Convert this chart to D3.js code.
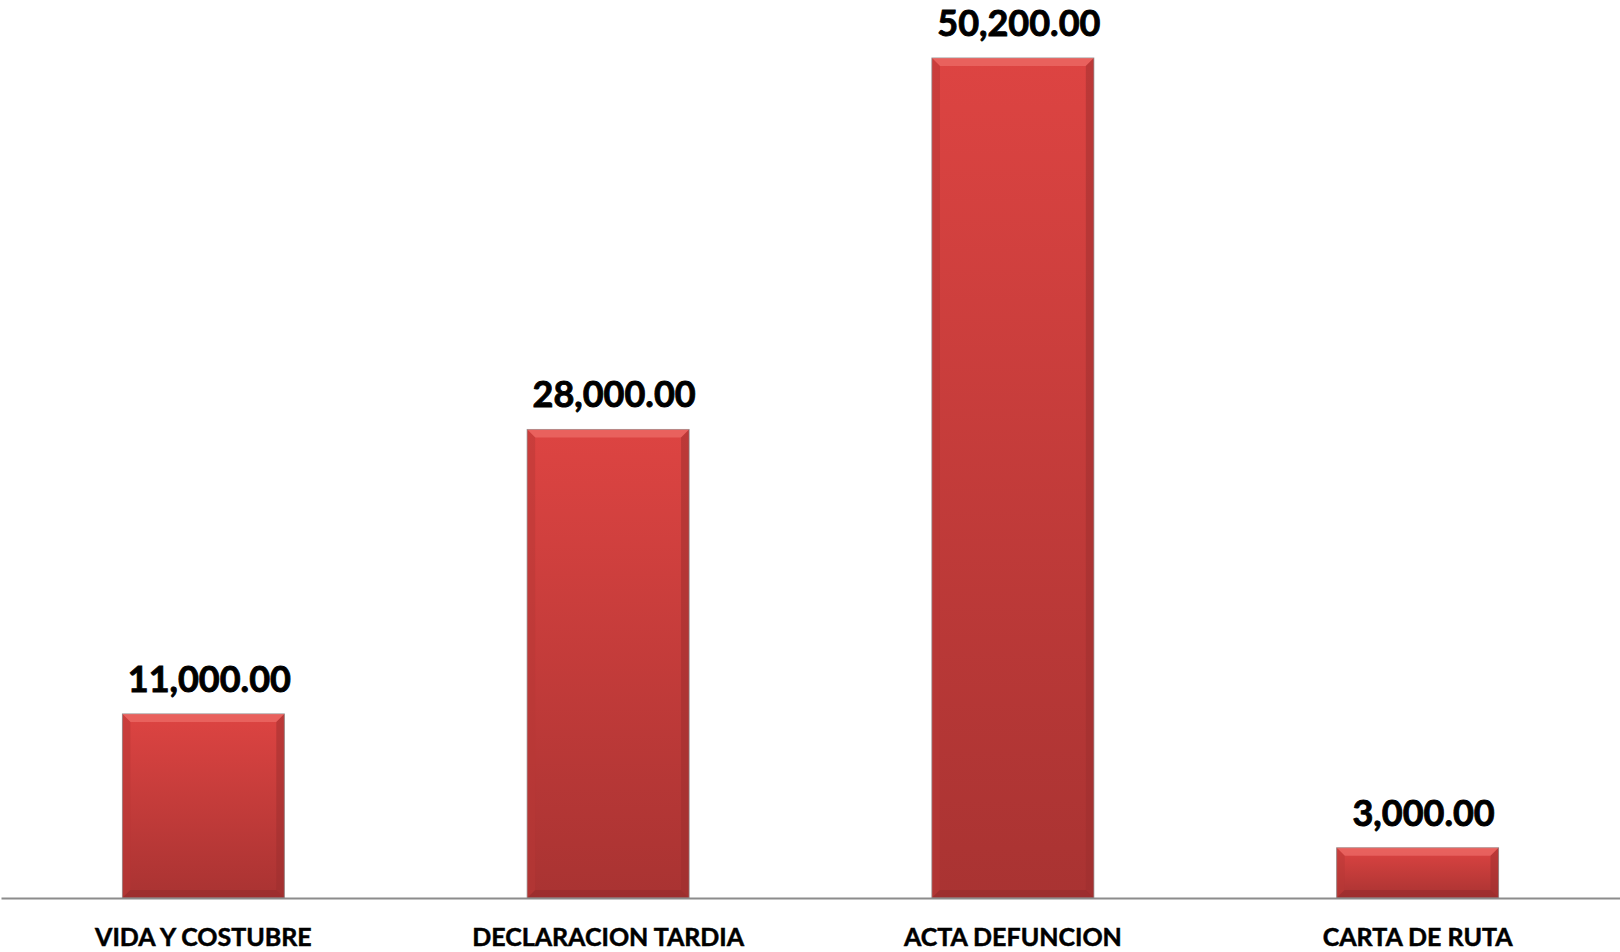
<!DOCTYPE html>
<html>
<head>
<meta charset="utf-8">
<script src="https://cdn.jsdelivr.net/npm/d3@7"></script>
<style>
  body { margin: 0; background: #ffffff; }
</style>
</head>
<body>
<script>
// chart data
const categories = ["VIDA Y COSTUBRE", "DECLARACION TARDIA", "ACTA DEFUNCION", "CARTA DE RUTA"]
const values = [11000, 28000, 50200, 3000]

const width = 1620, height = 952
const baseY = 898

let svg = d3.select("body").append("svg")
  .attr("width", width)
  .attr("height", height)

let defs = svg.append("defs")
let grad = defs.append("linearGradient")
  .attr("id", "barFill")
  .attr("x1", 0).attr("y1", 0).attr("x2", 0).attr("y2", 1)
grad.append("stop").attr("offset", "0%").attr("stop-color", "#dd4442")
grad.append("stop").attr("offset", "100%").attr("stop-color", "#a93332")

let x = d3.scaleBand()
  .domain(categories)
  .range([1, width])
  .paddingInner(0.6)
  .paddingOuter(0.3)

let y = d3.scaleLinear()
  .domain([0, 50200])
  .range([baseY, 58])

let fmt = d3.format(",.2f")

let data = categories.map((c, i) => ({ cat: c, val: values[i] }))

let bars = svg.selectAll("g.bar")
  .data(data)
  .enter()
  .append("g")
  .attr("class", "bar")

// main bar body
bars.append("rect")
  .attr("x", d => x(d.cat))
  .attr("y", d => y(d.val))
  .attr("width", x.bandwidth())
  .attr("height", d => baseY - y(d.val))
  .style("fill", "url(#barFill)")
  .style("stroke", "#9a9a9a")
  .style("stroke-width", 1)

// bevel: top highlight
let bev = 8
bars.append("path")
  .attr("d", d => {
    let x0 = x(d.cat), x1 = x0 + x.bandwidth(), t = y(d.val)
    return `M${x0},${t} L${x1},${t} L${x1 - bev},${t + bev} L${x0 + bev},${t + bev} Z`
  })
  .style("fill", "#ee6e6a")
  .style("opacity", 0.7)

// bevel: left and right sides
bars.append("path")
  .attr("d", d => {
    let x0 = x(d.cat), t = y(d.val)
    return `M${x0},${t} L${x0 + bev},${t + bev} L${x0 + bev},${baseY - bev} L${x0},${baseY} Z`
  })
  .style("fill", "#b83836")
  .style("opacity", 0.5)

bars.append("path")
  .attr("d", d => {
    let x1 = x(d.cat) + x.bandwidth(), t = y(d.val)
    return `M${x1},${t} L${x1 - bev},${t + bev} L${x1 - bev},${baseY - bev} L${x1},${baseY} Z`
  })
  .style("fill", "#9c2e2d")
  .style("opacity", 0.5)

// bevel: bottom
bars.append("path")
  .attr("d", d => {
    let x0 = x(d.cat), x1 = x0 + x.bandwidth()
    return `M${x0},${baseY} L${x0 + bev},${baseY - bev} L${x1 - bev},${baseY - bev} L${x1},${baseY} Z`
  })
  .style("fill", "#8f2a29")
  .style("opacity", 0.5)

// value labels
bars.append("text")
  .attr("x", d => x(d.cat) + x.bandwidth() / 2 + 6)
  .attr("y", d => y(d.val) - 22)
  .attr("text-anchor", "middle")
  .attr("font-family", "Lato, sans-serif")
  .attr("font-weight", "bold")
  .attr("font-size", "36px")
  .attr("fill", "#000")
  .attr("stroke", "#000")
  .attr("stroke-width", 0.9)
  .text(d => fmt(d.val))

// axis line
svg.append("g")
  .attr("transform", `translate(0,${baseY})`)
  .call(d3.axisBottom(x).tickSize(0).tickPadding(30))
  .call(g => g.select(".domain").attr("stroke", "#8c8c8c").attr("stroke-width", 2))
  .selectAll("text")
  .attr("font-family", "Lato, sans-serif")
  .attr("font-weight", "bold")
  .attr("font-size", "25px")
  .attr("fill", "#000")
  .attr("stroke", "#000")
  .attr("stroke-width", 0.5)
</script>
</body>
</html>
